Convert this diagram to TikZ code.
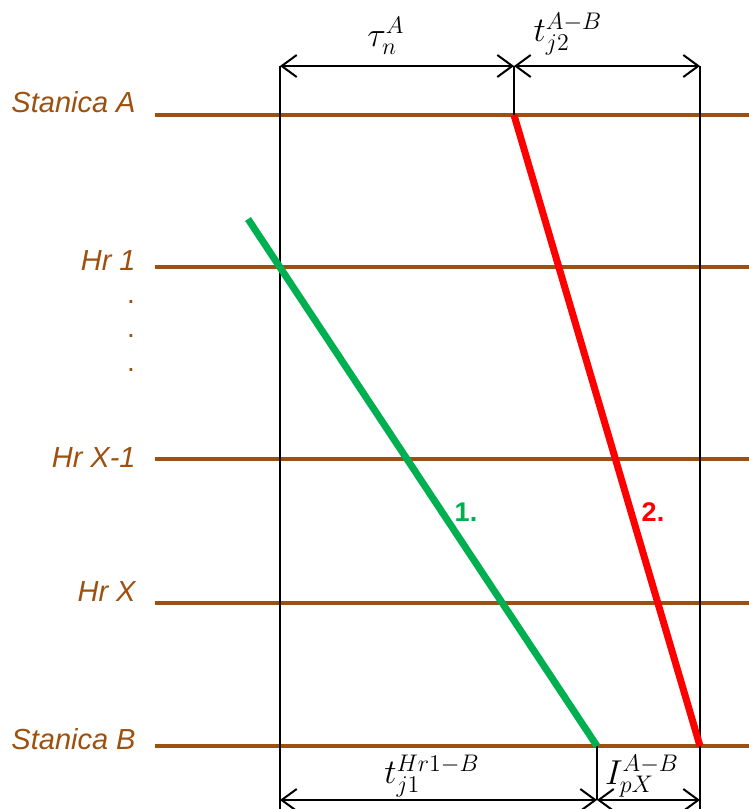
\documentclass[tikz,border=0pt]{standalone}
\usepackage{fontspec}
\setmainfont{Liberation Sans}
\usetikzlibrary{arrows.meta}
\definecolor{trackbrown}{RGB}{158,80,14}
\definecolor{trainone}{RGB}{0,176,80}
\definecolor{traintwo}{RGB}{255,0,0}
\tikzset{>={Straight Barb[length=7.5pt,width=11pt,line width=1pt]},
         track/.style={trackbrown,line width=1.6pt},
         stationlabel/.style={trackbrown,anchor=east,inner sep=0pt,
            font=\fontsize{14.5}{16}\selectfont\itshape},
         guide/.style={black,line width=1pt},
         dim/.style={black,line width=1pt,<->},
         trainpath/.style={line width=3.5pt},
         trainno/.style={font=\fontsize{13.5}{15}\selectfont\bfseries},
         dimlabel/.style={inner sep=0pt,font=\fontsize{17}{19}\selectfont}}

\begin{document}
\begin{tikzpicture}[x=0.5pt,y=-0.5pt]
  \useasboundingbox (0,0) rectangle (749,809);
  % stations and tracks
  \foreach \name/\y/\ty/\txt in {sA/115/102/Stanica A, hone/267/261/Hr 1,
      hxm/459/458/Hr X-1, hx/603/592/Hr X, sB/746/739/Stanica B}{
    \coordinate (\name-l) at (155,\y);
    \coordinate (\name-r) at (749,\y);
    \draw[track] (\name-l) -- (\name-r);
    \node[stationlabel] (\name-txt) at (136,\ty) {\txt};
  }
  \foreach \i/\y in {1/302,2/336,3/370}
    \node[trackbrown,inner sep=0pt,font=\fontsize{14}{16}\selectfont] (dot\i) at (131,\y) {.};
  % guide lines
  \coordinate (gl-t) at (280,66);  \coordinate (gl-b) at (280,809);
  \coordinate (gm-t) at (514,66);  \coordinate (gm-b) at (514,115);
  \coordinate (gr-t) at (700,66);  \coordinate (gr-b) at (700,809);
  \coordinate (gb-t) at (597,746); \coordinate (gb-b) at (597,800);
  \draw[guide] (gl-t) -- (gl-b);
  \draw[guide] (gm-t) -- (gm-b);
  \draw[guide] (gr-t) -- (gr-b);
  \draw[guide] (gb-t) -- (gb-b);
  % dimensions
  \coordinate (dl-t) at (280,66);  \coordinate (dm-t) at (514,66);
  \coordinate (dr-t) at (700,66);
  \coordinate (dl-b) at (280,800); \coordinate (dm-b) at (597,800);
  \coordinate (dr-b) at (700,800);
  \draw[dim] (dl-t) -- (dm-t);
  \draw[dim] (dm-t) -- (dr-t);
  \draw[dim] (dl-b) -- (dm-b);
  \draw[dim] (dm-b) -- (dr-b);
  \node[dimlabel] (tauA) at (386,36) {$\tau_{n}^{A}$};
  \node[dimlabel] (tj2) at (568,34) {$t_{j2}^{A-B}$};
  \node[dimlabel] (tj1) at (432,776) {$t_{j1}^{Hr1-B}$};
  \node[dimlabel] (IpX) at (642,776) {$I_{pX}^{A-B}$};
  % trains
  \coordinate (t1-s) at (248,219); \coordinate (t1-e) at (597,746);
  \coordinate (t2-s) at (514,115); \coordinate (t2-e) at (700,746);
  \draw[trainpath,trainone] (t1-s) -- (t1-e);
  \draw[trainpath,traintwo] (t2-s) -- (t2-e);
  \node[trainno,trainone] (no1) at (466,512) {1.};
  \node[trainno,traintwo] (no2) at (653,512) {2.};
\end{tikzpicture}
\end{document}
